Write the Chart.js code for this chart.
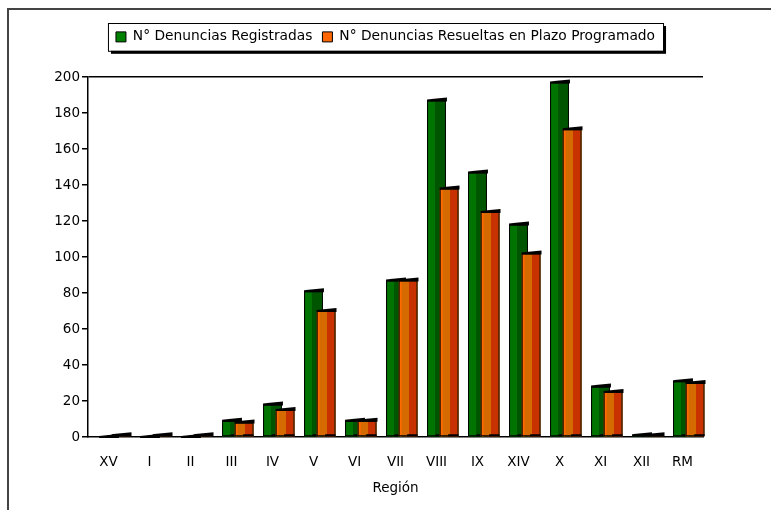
<!DOCTYPE html>
<html lang="es">
<head>
<meta charset="UTF-8">
<title>Denuncias por Región</title>
<script src="https://cdn.jsdelivr.net/npm/chart.js"></script>
<style>
  body { margin: 0; background: #fff; }
  #wrap { width: 771px; height: 510px; position: relative; }
</style>
</head>
<body>
<div id="wrap"><canvas id="myChart" width="771" height="510"></canvas></div>
<script>
const regiones = ['XV', 'I', 'II', 'III', 'IV', 'V', 'VI', 'VII', 'VIII', 'IX', 'XIV', 'X', 'XI', 'XII', 'RM'];
const registradas = [0, 0, 0, 9, 18, 81, 9, 87, 187, 147, 118, 197, 28, 1, 31];
const resueltas = [1, 1, 1, 8, 15, 70, 9, 87, 138, 125, 102, 171, 25, 1, 30];
const yTicks = [0, 20, 40, 60, 80, 100, 120, 140, 160, 180, 200];

const FONT = 'DejaVu Sans, Verdana, sans-serif';
const FSIZE = 13.5;

// outer frame + legend box
const framePlugin = {
    id: 'frame',
    beforeDraw(chart) {
        const c = chart.ctx;
        c.save();
        c.strokeStyle = '#444';
        c.lineWidth = 2;
        c.beginPath();
        c.moveTo(8, 510);
        c.lineTo(8, 9);
        c.lineTo(771, 9);
        c.stroke();

        const boxes = chart.legend.legendHitBoxes;
        if (boxes && boxes.length) {
            const first = boxes[0], last = boxes[boxes.length - 1];
            const x1 = first.left - 8, x2 = last.left + last.width + 8;
            const y1 = first.top - 7, y2 = first.top + first.height + 7;
            c.fillStyle = '#000';
            c.fillRect(x1 + 3, y1 + 3, x2 - x1, y2 - y1);
            c.fillStyle = '#fff';
            c.fillRect(x1, y1, x2 - x1, y2 - y1);
            c.lineWidth = 1;
            c.strokeStyle = '#000';
            c.strokeRect(x1 + 0.5, y1 + 0.5, x2 - x1, y2 - y1);
        }
        c.restore();
    }
};

// fake 3D shading on the bars (dataset 0 is only a spacer)
const shadePlugin = {
    id: 'shade',
    afterDatasetsDraw(chart) {
        const c = chart.ctx;
        const dark = [null, '#005500', '#c83200'];
        const light = [null, null, '#ff6a00'];
        const split = [0, 0.42, 0.55];
        c.save();
        chart.data.datasets.forEach((ds, di) => {
            if (di === 0) return;
            const meta = chart.getDatasetMeta(di);
            meta.data.forEach(bar => {
                const w = bar.width;
                const left = bar.x - w / 2;
                const top = bar.y, base = bar.base;
                if (base - top > 2) {
                    c.fillStyle = ds.backgroundColor;
                    c.fillRect(left, top, w, base - top);
                    c.fillStyle = dark[di];
                    c.fillRect(left + w * split[di], top + 1, w * (1 - split[di]) - 1, base - top - 1);
                    if (light[di]) {
                        c.fillStyle = light[di];
                        c.fillRect(left + 1, top + 1, 2, base - top - 1);
                    }
                    c.strokeStyle = '#000';
                    c.lineWidth = 1;
                    c.strokeRect(left + 0.5, top + 0.5, w - 1, base - top - 1);
                }
                // top cap
                c.fillStyle = '#000';
                c.beginPath();
                c.moveTo(left, top - 1);
                c.lineTo(left + w * 0.5, top - 2);
                c.lineTo(left + w + 1, top - 3);
                c.lineTo(left + w + 1, top + 1);
                c.lineTo(left, top + 1);
                c.closePath();
                c.fill();
                // floor shadow
                c.fillRect(left + w * 0.45, base - 2, w * 0.55, 2);
            });
        });
        c.restore();
    }
};

const legendHeight = {
    id: 'legendHeight',
    beforeInit(chart) {
        const fit = chart.legend.fit;
        chart.legend.fit = function () {
            fit.call(this);
            this.height = 57;
        };
    }
};

const ctx = document.getElementById('myChart').getContext('2d');
new Chart(ctx, {
    type: 'bar',
    data: {
        labels: regiones,
        datasets: [{
            label: '',
            data: [],
            backgroundColor: 'rgba(0,0,0,0)',
            categoryPercentage: 0.92,
            barPercentage: 1.5
        }, {
            label: 'N° Denuncias Registradas',
            data: registradas,
            backgroundColor: '#007400',
            borderWidth: 0,
            categoryPercentage: 0.92,
            barPercentage: 1.5
        }, {
            label: 'N° Denuncias Resueltas en Plazo Programado',
            data: resueltas,
            backgroundColor: '#d46a00',
            borderWidth: 0,
            categoryPercentage: 0.92,
            barPercentage: 1.5
        }]
    },
    plugins: [framePlugin, shadePlugin, legendHeight],
    options: {
        responsive: false,
        animation: false,
        devicePixelRatio: 1,
        layout: { padding: { top: 20, left: 0, right: 0, bottom: 0 } },
        plugins: {
            legend: {
                position: 'top',
                labels: {
                    boxWidth: 10,
                    boxHeight: 10,
                    padding: 10,
                    color: '#000',
                    font: { family: FONT, size: 13.8 },
                    generateLabels(chart) {
                        return chart.data.datasets.slice(1).map((ds, i) => ({
                            text: ds.label,
                            fillStyle: i === 0 ? '#008000' : '#ff6600',
                            strokeStyle: '#000',
                            lineWidth: 1,
                            datasetIndex: i + 1
                        }));
                    }
                }
            },
            tooltip: { enabled: false }
        },
        scales: {
            x: {
                grid: { display: false, drawTicks: false },
                border: { color: '#000', width: 1.5 },
                ticks: { color: '#000', font: { family: FONT, size: FSIZE }, padding: 17, maxRotation: 0, autoSkip: false },
                title: { display: true, text: 'Región', color: '#000', font: { family: FONT, size: FSIZE }, padding: { top: 4, bottom: 13 } },
                afterFit(scale) { scale.height = 73; }
            },
            y: {
                min: 0,
                max: 200,
                afterBuildTicks(scale) { scale.ticks = yTicks.map(v => ({ value: v })); },
                grid: {
                    color: c => c.tick && c.tick.value === 200 ? '#000' : 'rgba(0,0,0,0)',
                    tickColor: '#000',
                    tickLength: 6,
                    lineWidth: 1.5
                },
                border: { color: '#000', width: 1.5 },
                ticks: { color: '#000', font: { family: FONT, size: FSIZE }, padding: 2 },
                afterFit(scale) { scale.width = 88; }
            },
            right: {
                position: 'right',
                display: true,
                grid: { display: false, drawTicks: false },
                border: { display: false },
                ticks: { display: false },
                afterFit(scale) { scale.width = 68; }
            }
        }
    }
});
</script>
</body>
</html>
